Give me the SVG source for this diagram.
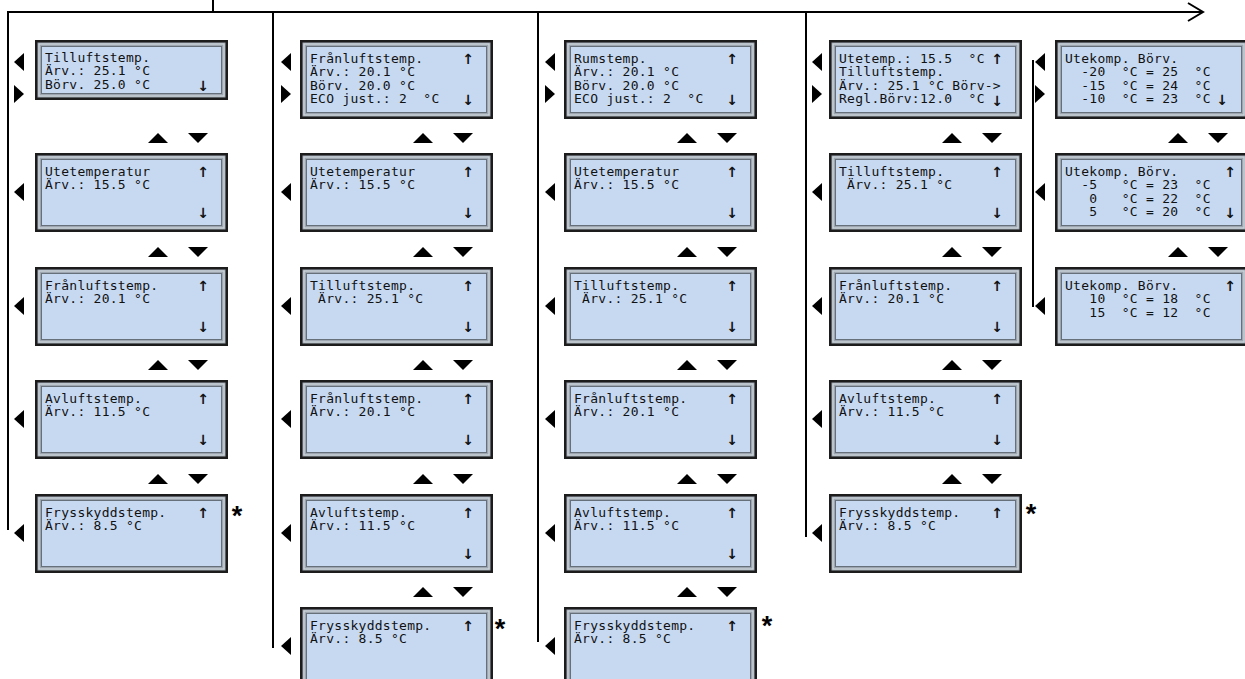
<svg xmlns="http://www.w3.org/2000/svg" xmlns:xlink="http://www.w3.org/1999/xlink" width="1245" height="679" viewBox="0 0 1245 679" xml:space="preserve">
<style>
.bg{fill:#ffffff}
.ln{stroke:#000;stroke-width:2;fill:none}
.tri{fill:#000}
.fo{fill:#9ca5b0;stroke:#1c1c1c;stroke-width:2.5}
.fh{fill:none;stroke:#d0d7de;stroke-width:1.2}
.fi{fill:#c6d9f1;stroke:#66707b;stroke-width:1}
.t{font-family:"DejaVu Sans Mono","Liberation Mono",monospace;font-size:13px;letter-spacing:0.27px;fill:#111;white-space:pre}
.ar{font-family:"DejaVu Sans","Liberation Sans",sans-serif;font-size:14px;font-weight:bold;fill:#111;text-anchor:middle}
.ast{font-family:"Liberation Sans",Arial,sans-serif;font-size:27px;font-weight:bold;fill:#000;text-anchor:middle}
</style>
<defs>
<g id="fr79"><rect class="fo" x="1.25" y="1.25" width="190.5" height="76.5"/><rect class="fh" x="4" y="4" width="185" height="71"/><rect class="fi" x="6.5" y="6.5" width="180" height="66"/></g>
<g id="fr60"><rect class="fo" x="1.25" y="1.25" width="190.5" height="57.5"/><rect class="fh" x="4" y="4" width="185" height="52"/><rect class="fi" x="6.5" y="6.5" width="180" height="47"/></g>
</defs>
<rect class="bg" x="0" y="0" width="1245" height="679"/>

<g id="connectors">
<line class="ln" x1="7" y1="12" x2="1203" y2="12"/>
<polyline class="ln" points="1188,3 1203,12 1188,21"/>
<line class="ln" x1="213" y1="0" x2="213" y2="12"/>
<line class="ln" x1="8" y1="11" x2="8" y2="530"/>
<line class="ln" x1="273" y1="11" x2="273" y2="648"/>
<line class="ln" x1="538" y1="11" x2="538" y2="642"/>
<line class="ln" x1="806" y1="11" x2="806" y2="537"/>
<line class="ln" x1="1033" y1="60" x2="1033" y2="307"/>
</g>

<g id="buttons">
<polygon class="tri" points="14,62 24,53 24,71"/><polygon class="tri" points="14,85 24,94 14,103"/>
<polygon class="tri" points="14,192 24,183 24,201"/>
<polygon class="tri" points="14,306 24,297 24,315"/>
<polygon class="tri" points="14,419 24,410 24,428"/>
<polygon class="tri" points="14,533 24,524 24,542"/>
<polygon class="tri" points="148,143 158,133 168,143"/><polygon class="tri" points="188,133 208,133 198,143"/>
<polygon class="tri" points="148,257 158,247 168,257"/><polygon class="tri" points="188,247 208,247 198,257"/>
<polygon class="tri" points="148,370 158,360 168,370"/><polygon class="tri" points="188,360 208,360 198,370"/>
<polygon class="tri" points="148,484 158,474 168,484"/><polygon class="tri" points="188,474 208,474 198,484"/>
<polygon class="tri" points="281,62 291,53 291,71"/><polygon class="tri" points="281,85 291,94 281,103"/>
<polygon class="tri" points="281,192 291,183 291,201"/>
<polygon class="tri" points="281,306 291,297 291,315"/>
<polygon class="tri" points="281,419 291,410 291,428"/>
<polygon class="tri" points="281,533 291,524 291,542"/>
<polygon class="tri" points="281,646 291,637 291,655"/>
<polygon class="tri" points="413,143 423,133 433,143"/><polygon class="tri" points="453,133 473,133 463,143"/>
<polygon class="tri" points="413,257 423,247 433,257"/><polygon class="tri" points="453,247 473,247 463,257"/>
<polygon class="tri" points="413,370 423,360 433,370"/><polygon class="tri" points="453,360 473,360 463,370"/>
<polygon class="tri" points="413,484 423,474 433,484"/><polygon class="tri" points="453,474 473,474 463,484"/>
<polygon class="tri" points="413,597 423,587 433,597"/><polygon class="tri" points="453,587 473,587 463,597"/>
<polygon class="tri" points="545,62 555,53 555,71"/><polygon class="tri" points="545,85 555,94 545,103"/>
<polygon class="tri" points="545,192 555,183 555,201"/>
<polygon class="tri" points="545,306 555,297 555,315"/>
<polygon class="tri" points="545,419 555,410 555,428"/>
<polygon class="tri" points="545,533 555,524 555,542"/>
<polygon class="tri" points="545,646 555,637 555,655"/>
<polygon class="tri" points="677,143 687,133 697,143"/><polygon class="tri" points="717,133 737,133 727,143"/>
<polygon class="tri" points="677,257 687,247 697,257"/><polygon class="tri" points="717,247 737,247 727,257"/>
<polygon class="tri" points="677,370 687,360 697,370"/><polygon class="tri" points="717,360 737,360 727,370"/>
<polygon class="tri" points="677,484 687,474 697,484"/><polygon class="tri" points="717,474 737,474 727,484"/>
<polygon class="tri" points="677,597 687,587 697,597"/><polygon class="tri" points="717,587 737,587 727,597"/>
<polygon class="tri" points="812,62 822,53 822,71"/><polygon class="tri" points="812,85 822,94 812,103"/>
<polygon class="tri" points="812,192 822,183 822,201"/>
<polygon class="tri" points="812,306 822,297 822,315"/>
<polygon class="tri" points="812,419 822,410 822,428"/>
<polygon class="tri" points="812,533 822,524 822,542"/>
<polygon class="tri" points="942,143 952,133 962,143"/><polygon class="tri" points="982,133 1002,133 992,143"/>
<polygon class="tri" points="942,257 952,247 962,257"/><polygon class="tri" points="982,247 1002,247 992,257"/>
<polygon class="tri" points="942,370 952,360 962,370"/><polygon class="tri" points="982,360 1002,360 992,370"/>
<polygon class="tri" points="942,484 952,474 962,484"/><polygon class="tri" points="982,474 1002,474 992,484"/>
<polygon class="tri" points="1035,62 1045,53 1045,71"/><polygon class="tri" points="1035,85 1045,94 1035,103"/>
<polygon class="tri" points="1035,192 1045,183 1045,201"/>
<polygon class="tri" points="1035,306 1045,297 1045,315"/>
<polygon class="tri" points="1168,143 1178,133 1188,143"/><polygon class="tri" points="1208,133 1228,133 1218,143"/>
<polygon class="tri" points="1168,257 1178,247 1188,257"/><polygon class="tri" points="1208,247 1228,247 1218,257"/>
</g>

<g id="c1-tilluft">
<use xlink:href="#fr60" x="35" y="40"/>
<text class="t" x="45" y="61.5">Tilluftstemp.</text>
<text class="t" x="45" y="75">Ärv.: 25.1 °C</text>
<text class="t" x="45" y="88.5">Börv. 25.0 °C</text>
<text class="ar" x="203" y="91">↓</text>
</g>
<g id="c1-ute">
<use xlink:href="#fr79" x="35" y="153"/>
<text class="t" x="45" y="175.5">Utetemperatur</text>
<text class="t" x="45" y="189">Ärv.: 15.5 °C</text>
<text class="ar" x="203" y="176.5">↑</text><text class="ar" x="203" y="217.5">↓</text>
</g>
<g id="c1-franluft">
<use xlink:href="#fr79" x="35" y="267"/>
<text class="t" x="45" y="289.5">Frånluftstemp.</text>
<text class="t" x="45" y="303">Ärv.: 20.1 °C</text>
<text class="ar" x="203" y="290.5">↑</text><text class="ar" x="203" y="331.5">↓</text>
</g>
<g id="c1-avluft">
<use xlink:href="#fr79" x="35" y="380"/>
<text class="t" x="45" y="402.5">Avluftstemp.</text>
<text class="t" x="45" y="416">Ärv.: 11.5 °C</text>
<text class="ar" x="203" y="403.5">↑</text><text class="ar" x="203" y="444.5">↓</text>
</g>
<g id="c1-frysskydd">
<use xlink:href="#fr79" x="35" y="494"/>
<text class="t" x="45" y="516.5">Frysskyddstemp.</text>
<text class="t" x="45" y="530">Ärv.: 8.5 °C</text>
<text class="ar" x="203" y="517.5">↑</text>
<text class="ast" x="237" y="525">*</text>
</g>

<g id="c2-franluft-top">
<use xlink:href="#fr79" x="300" y="40"/>
<text class="t" x="310" y="62.5">Frånluftstemp.</text>
<text class="t" x="310" y="76">Ärv.: 20.1 °C</text>
<text class="t" x="310" y="89.5">Börv. 20.0 °C</text>
<text class="t" x="310" y="103">ECO just.: 2  °C</text>
<text class="ar" x="468" y="63.5">↑</text><text class="ar" x="468" y="105">↓</text>
</g>
<g id="c2-ute">
<use xlink:href="#fr79" x="300" y="153"/>
<text class="t" x="310" y="175.5">Utetemperatur</text>
<text class="t" x="310" y="189">Ärv.: 15.5 °C</text>
<text class="ar" x="468" y="176.5">↑</text><text class="ar" x="468" y="217.5">↓</text>
</g>
<g id="c2-tilluft">
<use xlink:href="#fr79" x="300" y="267"/>
<text class="t" x="310" y="289.5">Tilluftstemp.</text>
<text class="t" x="310" y="303"> Ärv.: 25.1 °C</text>
<text class="ar" x="468" y="290.5">↑</text><text class="ar" x="468" y="331.5">↓</text>
</g>
<g id="c2-franluft">
<use xlink:href="#fr79" x="300" y="380"/>
<text class="t" x="310" y="402.5">Frånluftstemp.</text>
<text class="t" x="310" y="416">Ärv.: 20.1 °C</text>
<text class="ar" x="468" y="403.5">↑</text><text class="ar" x="468" y="444.5">↓</text>
</g>
<g id="c2-avluft">
<use xlink:href="#fr79" x="300" y="494"/>
<text class="t" x="310" y="516.5">Avluftstemp.</text>
<text class="t" x="310" y="530">Ärv.: 11.5 °C</text>
<text class="ar" x="468" y="517.5">↑</text><text class="ar" x="468" y="558.5">↓</text>
</g>
<g id="c2-frysskydd">
<use xlink:href="#fr79" x="300" y="607"/>
<text class="t" x="310" y="629.5">Frysskyddstemp.</text>
<text class="t" x="310" y="643">Ärv.: 8.5 °C</text>
<text class="ar" x="468" y="630.5">↑</text>
<text class="ast" x="500" y="638">*</text>
</g>

<g id="c3-rum">
<use xlink:href="#fr79" x="564" y="40"/>
<text class="t" x="574" y="62.5">Rumstemp.</text>
<text class="t" x="574" y="76">Ärv.: 20.1 °C</text>
<text class="t" x="574" y="89.5">Börv. 20.0 °C</text>
<text class="t" x="574" y="103">ECO just.: 2  °C</text>
<text class="ar" x="732" y="63.5">↑</text><text class="ar" x="732" y="105">↓</text>
</g>
<g id="c3-ute">
<use xlink:href="#fr79" x="564" y="153"/>
<text class="t" x="574" y="175.5">Utetemperatur</text>
<text class="t" x="574" y="189">Ärv.: 15.5 °C</text>
<text class="ar" x="732" y="176.5">↑</text><text class="ar" x="732" y="217.5">↓</text>
</g>
<g id="c3-tilluft">
<use xlink:href="#fr79" x="564" y="267"/>
<text class="t" x="574" y="289.5">Tilluftstemp.</text>
<text class="t" x="574" y="303"> Ärv.: 25.1 °C</text>
<text class="ar" x="732" y="290.5">↑</text><text class="ar" x="732" y="331.5">↓</text>
</g>
<g id="c3-franluft">
<use xlink:href="#fr79" x="564" y="380"/>
<text class="t" x="574" y="402.5">Frånluftstemp.</text>
<text class="t" x="574" y="416">Ärv.: 20.1 °C</text>
<text class="ar" x="732" y="403.5">↑</text><text class="ar" x="732" y="444.5">↓</text>
</g>
<g id="c3-avluft">
<use xlink:href="#fr79" x="564" y="494"/>
<text class="t" x="574" y="516.5">Avluftstemp.</text>
<text class="t" x="574" y="530">Ärv.: 11.5 °C</text>
<text class="ar" x="732" y="517.5">↑</text><text class="ar" x="732" y="558.5">↓</text>
</g>
<g id="c3-frysskydd">
<use xlink:href="#fr79" x="564" y="607"/>
<text class="t" x="574" y="629.5">Frysskyddstemp.</text>
<text class="t" x="574" y="643">Ärv.: 8.5 °C</text>
<text class="ar" x="732" y="630.5">↑</text>
<text class="ast" x="767" y="635">*</text>
</g>

<g id="c4-regl">
<use xlink:href="#fr79" x="829" y="40"/>
<text class="t" x="839" y="62.5">Utetemp.: 15.5  °C</text>
<text class="t" x="839" y="76">Tilluftstemp.</text>
<text class="t" x="839" y="89.5">Ärv.: 25.1 °C Börv-&gt;</text>
<text class="t" x="839" y="103">Regl.Börv:12.0  °C</text>
<text class="ar" x="997" y="63.5">↑</text><text class="ar" x="997" y="106">↓</text>
</g>
<g id="c4-tilluft">
<use xlink:href="#fr79" x="829" y="153"/>
<text class="t" x="839" y="175.5">Tilluftstemp.</text>
<text class="t" x="839" y="189"> Ärv.: 25.1 °C</text>
<text class="ar" x="997" y="176.5">↑</text><text class="ar" x="997" y="217.5">↓</text>
</g>
<g id="c4-franluft">
<use xlink:href="#fr79" x="829" y="267"/>
<text class="t" x="839" y="289.5">Frånluftstemp.</text>
<text class="t" x="839" y="303">Ärv.: 20.1 °C</text>
<text class="ar" x="997" y="290.5">↑</text><text class="ar" x="997" y="331.5">↓</text>
</g>
<g id="c4-avluft">
<use xlink:href="#fr79" x="829" y="380"/>
<text class="t" x="839" y="402.5">Avluftstemp.</text>
<text class="t" x="839" y="416">Ärv.: 11.5 °C</text>
<text class="ar" x="997" y="403.5">↑</text><text class="ar" x="997" y="444.5">↓</text>
</g>
<g id="c4-frysskydd">
<use xlink:href="#fr79" x="829" y="494"/>
<text class="t" x="839" y="516.5">Frysskyddstemp.</text>
<text class="t" x="839" y="530">Ärv.: 8.5 °C</text>
<text class="ar" x="997" y="517.5">↑</text>
<text class="ast" x="1031" y="523">*</text>
</g>

<g id="c5-utekomp1">
<use xlink:href="#fr79" x="1055" y="40"/>
<text class="t" x="1065" y="62.5">Utekomp. Börv.</text>
<text class="t" x="1065" y="76">  -20  °C = 25  °C</text>
<text class="t" x="1065" y="89.5">  -15  °C = 24  °C</text>
<text class="t" x="1065" y="103">  -10  °C = 23  °C</text>
<text class="ar" x="1222" y="105">↓</text>
</g>
<g id="c5-utekomp2">
<use xlink:href="#fr79" x="1055" y="153"/>
<text class="t" x="1065" y="175.5">Utekomp. Börv.</text>
<text class="t" x="1065" y="189">  -5   °C = 23  °C</text>
<text class="t" x="1065" y="202.5">   0   °C = 22  °C</text>
<text class="t" x="1065" y="216">   5   °C = 20  °C</text>
<text class="ar" x="1230" y="176.5">↑</text><text class="ar" x="1230" y="217.5">↓</text>
</g>
<g id="c5-utekomp3">
<use xlink:href="#fr79" x="1055" y="267"/>
<text class="t" x="1065" y="289.5">Utekomp. Börv.</text>
<text class="t" x="1065" y="303">   10  °C = 18  °C</text>
<text class="t" x="1065" y="316.5">   15  °C = 12  °C</text>
<text class="ar" x="1230" y="290.5">↑</text>
</g>
</svg>
